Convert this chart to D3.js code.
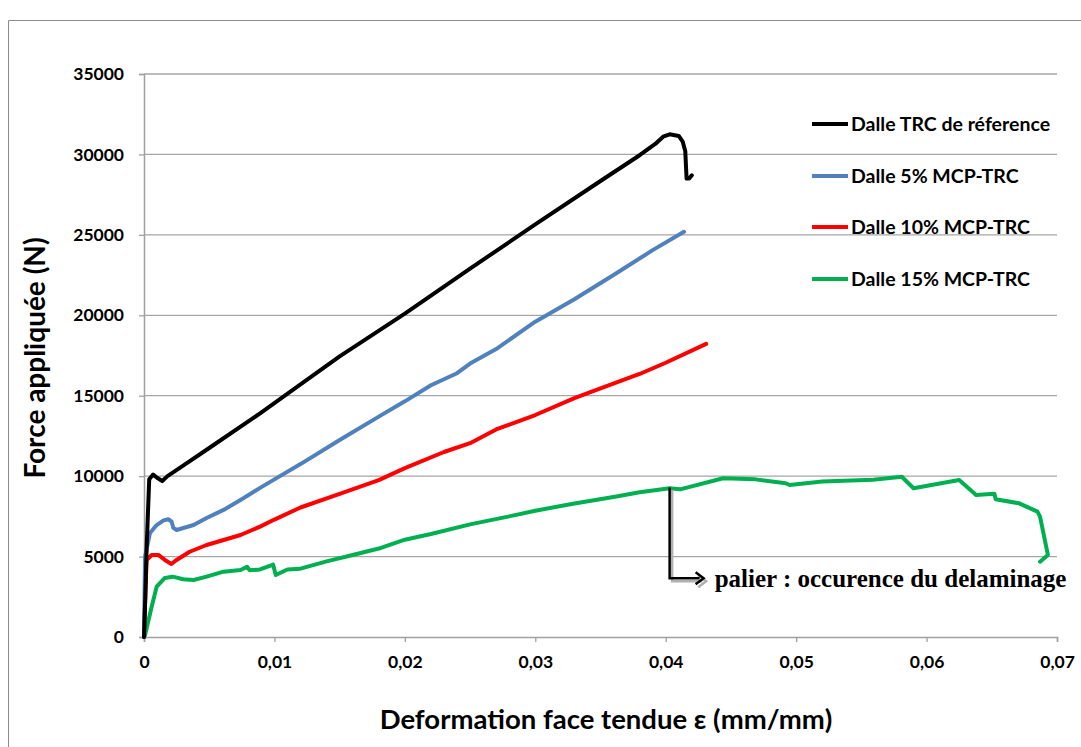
<!DOCTYPE html>
<html>
<head>
<meta charset="utf-8">
<script src="https://cdn.jsdelivr.net/npm/d3@7"></script>
<style>
  body { margin: 0; background: #fff; }
  svg { display: block; }
</style>
</head>
<body>
<svg id="chart" width="1081" height="747"></svg>
<script>
// ---- Data ----
const seriesNames = ["Dalle TRC de réference", "Dalle 5% MCP-TRC", "Dalle 10% MCP-TRC", "Dalle 15% MCP-TRC"];
const seriesColors = ["#000000", "#4F81BD", "#FF0000", "#00B050"];

const blackX = [0, 0.0001, 0.0002, 0.0004, 0.0007, 0.0010, 0.0014, 0.0018, 0.003, 0.005, 0.0089, 0.012, 0.015, 0.020, 0.025, 0.030, 0.035, 0.038, 0.0392, 0.0398, 0.0403, 0.0410, 0.0413, 0.0415, 0.0416, 0.0418, 0.0420];
const blackY = [0, 2500, 5500, 9800, 10100, 9900, 9700, 10000, 10650, 11750, 13900, 15700, 17450, 20100, 22900, 25650, 28350, 29950, 30650, 31100, 31250, 31150, 30800, 30200, 28500, 28500, 28700];

const blueX = [0, 0.00008, 0.00046, 0.00097, 0.0015, 0.00186, 0.00212, 0.00225, 0.0025, 0.0038, 0.0048, 0.0061, 0.0074, 0.0089, 0.010, 0.012, 0.015, 0.018, 0.020, 0.022, 0.024, 0.025, 0.027, 0.030, 0.033, 0.036, 0.039, 0.0414];
const blueY = [0, 4990, 6470, 6960, 7250, 7320, 7170, 6780, 6650, 6960, 7400, 7900, 8520, 9270, 9800, 10750, 12250, 13700, 14650, 15650, 16400, 17000, 17900, 19600, 21000, 22500, 24050, 25190];

const redX = [0, 0.0001, 0.0002, 0.00059, 0.0011, 0.0016, 0.0021, 0.0025, 0.0035, 0.0048, 0.0061, 0.0074, 0.0089, 0.010, 0.012, 0.015, 0.018, 0.020, 0.023, 0.025, 0.027, 0.030, 0.033, 0.035, 0.038, 0.040, 0.0431];
const redY = [0, 2500, 4790, 5100, 5100, 4790, 4540, 4790, 5300, 5720, 6030, 6340, 6860, 7300, 8050, 8900, 9750, 10500, 11500, 12050, 12900, 13800, 14850, 15450, 16350, 17050, 18220];

const greenX = [0, 0.00008, 0.00059, 0.00097, 0.0016, 0.0022, 0.0030, 0.0038, 0.0048, 0.0061, 0.0074, 0.0079, 0.0081, 0.0089, 0.0099, 0.0101, 0.011, 0.012, 0.014, 0.016, 0.018, 0.020, 0.022, 0.025, 0.028, 0.030, 0.033, 0.036, 0.038, 0.0403, 0.0411, 0.0444, 0.0469, 0.0492, 0.0495, 0.0520, 0.0559, 0.0581, 0.0590, 0.0625, 0.0638, 0.0652, 0.0653, 0.0671, 0.0685, 0.0687, 0.0693, 0.0687];
const greenY = [0, 100, 1900, 3130, 3670, 3750, 3590, 3540, 3750, 4060, 4170, 4370, 4150, 4200, 4500, 3850, 4200, 4250, 4700, 5100, 5500, 6050, 6400, 7000, 7500, 7850, 8300, 8700, 9000, 9250, 9180, 9870, 9800, 9560, 9450, 9660, 9770, 9960, 9250, 9760, 8830, 8900, 8560, 8310, 7790, 7480, 5100, 4680];

const xTicks = [0, 0.01, 0.02, 0.03, 0.04, 0.05, 0.06, 0.07];
const xTickLabels = ["0", "0,01", "0,02", "0,03", "0,04", "0,05", "0,06", "0,07"];
const yTicks = [0, 5000, 10000, 15000, 20000, 25000, 30000, 35000];
const yTickLabels = ["0", "5000", "10000", "15000", "20000", "25000", "30000", "35000"];

const xTitle = "Deformation face tendue ε (mm/mm)";
const yTitle = "Force appliquée (N)";
const annotationText = "palier : occurence du delaminage";
const annotationPoint = [0.0403, 9300];
const annotationElbowY = 3650;

// ---- Layout ----
const svg = d3.select("#chart");
const pLeft = 144, pRight = 1057, pTop = 74, pBottom = 637;
const x = d3.scaleLinear().domain([0, 0.07]).range([pLeft, pRight]);
const y = d3.scaleLinear().domain([0, 35000]).range([pBottom, pTop]);
const font = "Lato, 'Open Sans', sans-serif";

// Outer frame
svg.append("path").attr("d", "M8.5,747 L8.5,20.5 L1081,20.5")
  .attr("fill", "none").attr("stroke", "#8c8c8c").attr("stroke-width", 1);

// Gridlines
svg.append("g").selectAll("line").data(yTicks.filter(d => d > 0)).join("line")
  .attr("x1", pLeft).attr("x2", pRight)
  .attr("y1", d => y(d)).attr("y2", d => y(d))
  .attr("stroke", "#a6a6a6").attr("stroke-width", 1.3);

// Y axis
const yAxis = d3.axisLeft(y).tickValues(yTicks).tickSize(5).tickPadding(15)
  .tickFormat((d, i) => yTickLabels[i]);
const gy = svg.append("g").attr("transform", `translate(${pLeft},0)`).call(yAxis);
gy.select(".domain").attr("stroke", "#a0a0a0").attr("stroke-width", 1.5);
gy.selectAll(".tick line").attr("stroke", "#a0a0a0").attr("stroke-width", 1.3);
gy.selectAll(".tick text").attr("font-family", font).attr("font-weight", "bold")
  .attr("font-size", 17.5).attr("fill", "#000");

// X axis
const xAxis = d3.axisBottom(x).tickValues(xTicks).tickSize(5).tickPadding(14)
  .tickFormat((d, i) => xTickLabels[i]);
const gx = svg.append("g").attr("transform", `translate(0,${pBottom})`).call(xAxis);
gx.select(".domain").attr("stroke", "#a0a0a0").attr("stroke-width", 1.5);
gx.selectAll(".tick line").attr("stroke", "#a0a0a0").attr("stroke-width", 1.3);
gx.selectAll(".tick text").attr("font-family", font).attr("font-weight", "bold")
  .attr("font-size", 17.5).attr("fill", "#000");

// Titles
svg.append("text").attr("x", 606).attr("y", 729)
  .attr("text-anchor", "middle").attr("font-family", font).attr("font-weight", "bold")
  .attr("font-size", 27.5).text(xTitle);
svg.append("text").attr("transform", "translate(45,358) rotate(-90)")
  .attr("text-anchor", "middle").attr("font-family", font).attr("font-weight", "bold")
  .attr("font-size", 28).text(yTitle);

// Series
const series = [
  [blackX, blackY], [blueX, blueY], [redX, redY], [greenX, greenY]
];
const line = d3.line().x(d => x(d[0])).y(d => y(d[1]));
const drawOrder = [3, 2, 1, 0];
drawOrder.forEach(i => {
  const pts = series[i][0].map((v, k) => [v, series[i][1][k]]);
  svg.append("path").datum(pts).attr("d", line)
    .attr("fill", "none").attr("stroke", seriesColors[i])
    .attr("stroke-width", 4).attr("stroke-linejoin", "round").attr("stroke-linecap", "round");
});

// Legend
const legendY = [124, 176, 227, 279];
const lg = svg.append("g");
seriesNames.forEach((name, i) => {
  lg.append("line").attr("x1", 812).attr("x2", 848).attr("y1", legendY[i]).attr("y2", legendY[i])
    .attr("stroke", seriesColors[i]).attr("stroke-width", 4);
  lg.append("text").attr("x", 851).attr("y", legendY[i]).attr("dy", "0.36em")
    .attr("font-family", font).attr("font-weight", "bold").attr("font-size", 19.5).text(name);
});

// Annotation with shadow
const ax = x(annotationPoint[0]), ay = y(annotationPoint[1]), ey = y(annotationElbowY);
const arrowEnd = ax + 34;
function drawArrow(g, dx, dy, color) {
  g.append("path")
    .attr("d", `M${ax + dx},${ay + dy} L${ax + dx},${ey + dy} L${arrowEnd - 4 + dx},${ey + dy}`)
    .attr("fill", "none").attr("stroke", color).attr("stroke-width", 2.5);
  g.append("path")
    .attr("d", `M${arrowEnd - 8 + dx},${ey - 6 + dy} L${arrowEnd + dx},${ey + dy} L${arrowEnd - 8 + dx},${ey + 6 + dy}`)
    .attr("fill", "none").attr("stroke", color).attr("stroke-width", 2.5).attr("stroke-linejoin", "miter");
}
const ag = svg.append("g");
drawArrow(ag, 2.5, 3, "#b0b0b0");
drawArrow(ag, 0, 0, "#000");
svg.append("text").attr("x", arrowEnd + 11).attr("y", ey + 9)
  .attr("font-family", "'Liberation Serif', 'Times New Roman', serif").attr("font-weight", "bold")
  .attr("font-size", 25).text(annotationText);
</script>
</body>
</html>
